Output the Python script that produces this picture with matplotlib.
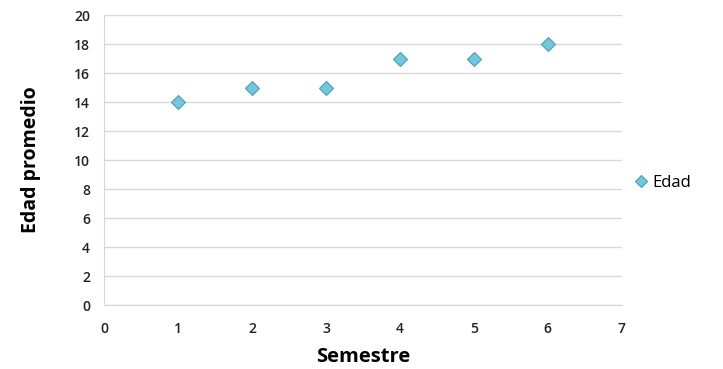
import matplotlib.pyplot as plt

# data
semestre = [1, 2, 3, 4, 5, 6]
edad = [14, 15, 15, 17, 17, 18]
x_ticks = [0, 1, 2, 3, 4, 5, 6, 7]
y_ticks = [0, 2, 4, 6, 8, 10, 12, 14, 16, 18, 20]

plt.rcParams['font.family'] = ['Open Sans', 'DejaVu Sans']

fig = plt.figure(figsize=(7.23, 3.69), dpi=100)
ax = fig.add_axes([0.1438, 0.1734, 0.7162, 0.7856])

ax.plot(semestre, edad, linestyle='none', marker='D', markersize=7.5,
        markerfacecolor='#74c6da', markeredgecolor='#4a9fb8', markeredgewidth=0.8,
        label='Edad', zorder=3)

ax.set_xlim(0, 7)
ax.set_ylim(0, 20)
ax.set_xticks(x_ticks)
ax.set_yticks(y_ticks)
ax.grid(axis='y', color='#d8d8d8', linewidth=1)
ax.set_axisbelow(True)
for s in ['top', 'right']:
    ax.spines[s].set_visible(False)
for s in ['left', 'bottom']:
    ax.spines[s].set_color('#d8d8d8')
ax.tick_params(length=0, labelsize=10, colors='#222222')
ax.tick_params(axis='x', pad=12)
ax.tick_params(axis='y', pad=10)
for lab in ax.get_xticklabels() + ax.get_yticklabels():
    lab.set_fontweight('semibold')

ax.set_xlabel('Semestre', fontsize=14.5, fontweight='bold', labelpad=8)
ax.set_ylabel('Edad promedio', fontsize=14, fontweight='bold', labelpad=24)

ax.legend(loc='center left', bbox_to_anchor=(0.995, 0.42), frameon=False,
          fontsize=12, handlelength=0.8, handletextpad=0.3, markerscale=0.8)

fig.savefig('out.png', dpi=100)
